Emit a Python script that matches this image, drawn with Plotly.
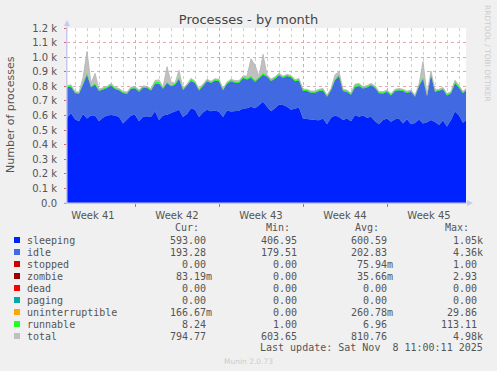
import plotly.graph_objects as go
import pandas as pd

# ---------------- data ----------------
start_time = "2025-10-07 08:00"
n_points = 101  # one sample every 8 hours

sleeping = [585, 615, 574, 560, 610, 580, 600, 600, 560, 585,
            600, 603, 600, 590, 545, 570, 600, 605, 560, 592,
            595, 590, 630, 570, 600, 605, 615, 625, 640, 590,
            610, 650, 640, 590, 620, 640, 630, 635, 625, 590,
            635, 628, 630, 632, 648, 650, 660, 650, 670, 695,
            660, 630, 650, 675, 672, 660, 640, 649, 655, 580,
            575, 573, 570, 568, 580, 540, 585, 600, 590, 569,
            580, 560, 603, 592, 600, 585, 592, 560, 540, 569,
            580, 558, 575, 580, 546, 575, 540, 548, 572, 545,
            553, 569, 555, 535, 565, 525, 570, 628, 600, 550,
            575]
idle = [208, 182, 180, 189, 202, 300, 193, 212, 208, 193,
        188, 203, 182, 183, 209, 180, 183, 182, 203, 199,
        193, 182, 186, 250, 183, 217, 185, 185, 211, 185,
        193, 186, 182, 182, 183, 195, 193, 205, 210, 183,
        183, 207, 194, 192, 209, 197, 201, 182, 185, 185,
        207, 207, 202, 201, 186, 210, 222, 185, 185, 188,
        193, 183, 186, 200, 192, 188, 188, 242, 280, 199,
        182, 183, 193, 211, 185, 207, 215, 230, 213, 182,
        183, 180, 193, 193, 222, 180, 223, 180, 230, 306,
        180, 307, 208, 233, 213, 213, 183, 193, 191, 203,
        203]
runnable = [7, 8, 6, 6, 8, 10, 7, 8, 7, 7,
            7, 9, 7, 7, 6, 6, 7, 7, 7, 7,
            7, 7, 14, 10, 7, 8, 7, 7, 9, 7,
            7, 12, 8, 7, 7, 8, 7, 8, 8, 7,
            7, 8, 8, 8, 9, 8, 9, 8, 8, 9,
            8, 8, 8, 9, 8, 8, 8, 8, 8, 7,
            7, 7, 7, 7, 8, 7, 7, 8, 10, 7,
            7, 7, 14, 12, 8, 8, 8, 8, 7, 7,
            7, 7, 7, 7, 7, 7, 7, 7, 8, 9,
            7, 9, 7, 7, 8, 7, 7, 14, 9, 7,
            8]
total = [805, 810, 765, 760, 860, 1040, 820, 890, 780, 790,
         800, 820, 794, 785, 765, 761, 795, 799, 775, 803,
         800, 784, 840, 845, 795, 935, 830, 822, 910, 787,
         815, 855, 835, 784, 815, 848, 835, 852, 848, 785,
         830, 848, 840, 838, 872, 870, 990, 946, 868, 1020,
         880, 850, 865, 890, 870, 882, 875, 847, 853, 780,
         780, 768, 768, 780, 785, 740, 785, 880, 900, 780,
         774, 755, 815, 820, 798, 805, 820, 803, 765, 763,
         775, 750, 780, 785, 780, 767, 775, 740, 815, 970,
         745, 905, 775, 780, 792, 750, 765, 842, 805, 765,
         792]

y_tick_values = [0, 100, 200, 300, 400, 500, 600, 700, 800, 900, 1000, 1100, 1200]
y_tick_labels = ["0.0", "0.1 k", "0.2 k", "0.3 k", "0.4 k", "0.5 k", "0.6 k",
                 "0.7 k", "0.8 k", "0.9 k", "1.0 k", "1.1 k", "1.2 k"]

series_names = ["sleeping", "idle", "stopped", "zombie", "dead", "paging",
                "uninterruptible", "runnable", "total"]
series_colors = ["#0022ff", "#4169e1", "#cc0000", "#990000", "#ff0000",
                 "#00aaaa", "#ffa500", "#22ff22", "#c0c0c0"]
cur_vals = ["593.00", "193.28", "0.00", "83.19m", "0.00", "0.00", "166.67m", "8.24", "794.77"]
min_vals = ["406.95", "179.51", "0.00", "0.00", "0.00", "0.00", "0.00", "1.00", "603.65"]
avg_vals = ["600.59", "202.83", "75.94m", "35.66m", "0.00", "0.00", "260.78m", "6.96", "810.76"]
max_vals = ["1.05k", "4.36k", "1.00", "2.93", "0.00", "0.00", "29.86", "113.11", "4.98k"]
last_update = "Last update: Sat Nov \u00a08 11:00:11 2025"

# ---------------- layout geometry ----------------
W, H = 497, 371
PL, PR, PT, PB = 67, 466, 28, 203  # plot box in pixels


def px(x):
    return (x - PL) / (PR - PL)


def py(y):
    return (PB - y) / (PB - PT)


times = pd.date_range(start_time, periods=n_points, freq="8h")
x_start = pd.Timestamp(start_time)
x_end = x_start + pd.Timedelta(hours=33.25 * 24)

fig = go.Figure()
fig.add_trace(go.Scatter(x=times, y=total, mode="lines", line=dict(width=0),
                         fill="tozeroy", fillcolor="#c0c0c0", hoverinfo="skip"))
fig.add_trace(go.Scatter(x=times, y=sleeping, mode="lines", line=dict(width=0),
                         stackgroup="s", fillcolor="#0022ff", hoverinfo="skip"))
fig.add_trace(go.Scatter(x=times, y=idle, mode="lines", line=dict(width=0),
                         stackgroup="s", fillcolor="#4169e1", hoverinfo="skip"))
fig.add_trace(go.Scatter(x=times, y=runnable, mode="lines", line=dict(width=0),
                         stackgroup="s", fillcolor="#22ff22", hoverinfo="skip"))
fig.add_trace(go.Scatter(x=times, y=total, mode="lines",
                         line=dict(width=1, color="rgba(180,180,180,0.8)"),
                         hoverinfo="skip"))

grid_red = "#e2a8a8"
fig.update_layout(
    width=W, height=H,
    margin=dict(l=PL, r=W - PR, t=PT, b=H - PB, pad=0),
    paper_bgcolor="#f0f0f0", plot_bgcolor="#ffffff",
    showlegend=False, hovermode=False,
    font=dict(family="DejaVu Sans", size=10, color="#555555"),
    title=dict(text="Processes - by month", x=248.5 / W, xanchor="center",
               y=1 - 19 / H, yanchor="middle",
               font=dict(family="DejaVu Sans", size=13, color="#444444")),
    xaxis=dict(type="date", range=[x_start, x_end], tick0="2025-10-06",
               dtick=7 * 86400000, ticklabelmode="period", tickformat="Week %V",
               showgrid=True, gridcolor=grid_red, griddash="dot", gridwidth=1,
               ticks="outside", ticklen=3, tickcolor="#e06060",
               showline=True, linecolor="#c8c8e8", zeroline=False,
               tickfont=dict(size=10, color="#555555"),
               minor=dict(dtick=86400000, tick0="2025-10-06", showgrid=True,
                          gridcolor="#cfcfcf", griddash="dot", gridwidth=1)),
    yaxis=dict(range=[0, 1200], tickvals=y_tick_values, ticktext=y_tick_labels,
               showgrid=True, gridcolor=grid_red, griddash="dot", gridwidth=1,
               ticks="outside", ticklen=2, tickcolor="#e06060",
               showline=True, linecolor="#c8c8e8", zeroline=False,
               ticklabelstandoff=5, tickfont=dict(size=10, color="#555555")),
)

# axis arrows
arrow_col = "#c8c8f0"
fig.add_shape(type="line", xref="paper", yref="paper", x0=px(67), x1=px(67),
              y0=py(203), y1=py(24), line=dict(color=arrow_col, width=1))
fig.add_shape(type="path", xref="paper", yref="paper",
              path=f"M {px(64)} {py(26)} L {px(70)} {py(26)} L {px(67)} {py(20)} Z",
              fillcolor=arrow_col, line=dict(width=0))
fig.add_shape(type="line", xref="paper", yref="paper", x0=px(64), x1=px(469),
              y0=py(203), y1=py(203), line=dict(color=arrow_col, width=1))
fig.add_shape(type="path", xref="paper", yref="paper",
              path=f"M {px(467)} {py(200)} L {px(467)} {py(206)} L {px(473)} {py(203)} Z",
              fillcolor=arrow_col, line=dict(width=0))

ann = []
ann.append(dict(text="Number of processes", x=px(10), y=py(115), xref="paper", yref="paper",
                textangle=-90, showarrow=False, xanchor="center", yanchor="middle",
                font=dict(family="DejaVu Sans", size=11, color="#555555")))
ann.append(dict(text="RRDTOOL / TOBI OETIKER", x=px(488), y=py(53), xref="paper", yref="paper",
                textangle=90, showarrow=False, xanchor="center", yanchor="middle",
                font=dict(family="DejaVu Sans", size=7.5, color="#cccccc")))
ann.append(dict(text="Munin 2.0.73", x=px(248), y=py(361), xref="paper", yref="paper",
                showarrow=False, xanchor="center", yanchor="middle",
                font=dict(family="DejaVu Sans", size=7.5, color="#cccccc")))

mono = dict(family="DejaVu Sans Mono", size=10, color="#555555")


def txt(s, x, y, anchor="left"):
    ann.append(dict(text=s, x=px(x), y=py(y), xref="paper", yref="paper",
                    showarrow=False, xanchor=anchor, yanchor="middle",
                    borderpad=0, borderwidth=0, font=mono))


for h, xr in [("Cur:", 199), ("Min:", 290), ("Avg:", 379), ("Max:", 469)]:
    txt(h, xr, 227, "right")

for i, name in enumerate(series_names):
    yc = 240 + 12 * i
    fig.add_shape(type="rect", xref="paper", yref="paper",
                  x0=px(14), x1=px(20), y0=py(yc + 3), y1=py(yc - 3),
                  fillcolor=series_colors[i], line=dict(width=0))
    txt(name, 27, yc, "left")
    for vals, xr in [(cur_vals, 206), (min_vals, 297), (avg_vals, 387), (max_vals, 477)]:
        v = vals[i]
        edge = xr + 6 if v[-1].isalpha() else xr
        txt(v, edge, yc, "right")

txt(last_update, 483, 347, "right")

fig.update_layout(annotations=ann)
fig.write_html("out.html",
               config={"displayModeBar": False, "staticPlot": True},
               post_script="document.body.style.margin='0';"
                           "document.body.style.background='#f0f0f0';")
